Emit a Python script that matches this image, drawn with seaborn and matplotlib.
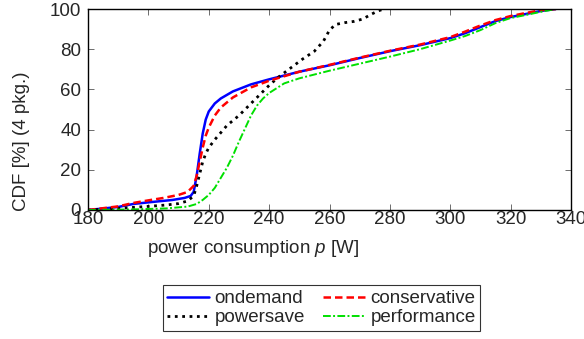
import numpy as np
import pandas as pd
import matplotlib
matplotlib.use('Agg')
import matplotlib.pyplot as plt
import seaborn as sns

# CDF curves (power in W, CDF in %)
ondemand_x = [180, 190, 195, 200, 208, 212, 214, 215, 216, 217, 218, 219, 220, 222, 224, 228, 234, 240,
              250, 260, 270, 280, 290, 300, 305, 310, 315, 320, 325, 330, 335]
ondemand_y = [0, 1.5, 3, 3.8, 5, 6, 7, 9, 17, 28, 38, 45, 49, 53, 55.5, 59, 62.5, 65,
              68.8, 72, 75.6, 79, 82, 85.5, 88, 91, 94, 96, 97.5, 99, 100]

conservative_x = [180, 190, 195, 200, 205, 210, 213, 215, 216, 217, 218, 219, 220, 222, 224, 228, 234, 240,
                  250, 260, 270, 280, 290, 300, 305, 310, 315, 320, 325, 330, 335]
conservative_y = [0, 1.8, 3.5, 4.8, 6, 7.5, 9, 12, 17, 24, 31, 37, 41, 47, 51, 56, 61, 64.3,
                  68.8, 72.2, 75.8, 79.2, 82.3, 86, 88.8, 91.8, 94.5, 96.5, 98, 99.4, 100]

powersave_x = [180, 190, 200, 206, 210, 213, 215, 216, 217, 218, 219, 220, 222, 226, 230, 233, 236, 240,
               243, 247, 251, 255, 258, 260, 262, 265, 268, 271, 274, 276, 278]
powersave_y = [0, 0.8, 1.8, 2.5, 3.2, 4.5, 7, 12, 18, 24, 28, 31, 35, 42, 47, 51.5, 56, 62,
               66, 70.5, 75, 79, 84, 89.5, 92.3, 93.2, 93.8, 95, 97.5, 99, 100]

performance_x = [180, 195, 206, 213, 216, 218, 220, 222, 224, 226, 228, 230, 232, 234, 236, 238, 240,
                 245, 250, 260, 270, 280, 290, 300, 305, 310, 315, 320, 325, 330, 335]
performance_y = [0, 0.3, 0.8, 1.7, 3, 5, 7.5, 11, 16, 21, 27, 34, 40.5, 47, 52, 55.5, 58.2,
                 63, 65.5, 69.3, 72.8, 76.3, 80, 84.3, 86.6, 89.5, 93, 95.5, 97, 98.6, 100]

x_ticks = [180, 200, 220, 240, 260, 280, 300, 320, 340]
y_ticks = [0, 20, 40, 60, 80, 100]

sns.set_style('ticks')
plt.rcParams['font.family'] = ['Liberation Sans', 'DejaVu Sans']
plt.rcParams['mathtext.fontset'] = 'custom'
plt.rcParams['mathtext.it'] = 'Liberation Sans:italic'
plt.rcParams['mathtext.rm'] = 'Liberation Sans'

fs = 13.5
fig = plt.figure(figsize=(5.84, 3.39), dpi=100)
ax = fig.add_axes([88/584, 1 - 210/339, 483/584, 201/339])

series = [
    ('ondemand', ondemand_x, ondemand_y, '#0000ff', '-', 1.8),
    ('powersave', powersave_x, powersave_y, 'black', ':', 2.0),
    ('conservative', conservative_x, conservative_y, '#ff0000', (0, (3, 1.6)), 1.8),
    ('performance', performance_x, performance_y, '#00e000', (0, (4, 1.2, 1, 1.2)), 1.4),
]
for name, xs, ys, col, ls, lw in series:
    sns.lineplot(x=xs, y=ys, ax=ax, color=col, linestyle=ls, linewidth=lw, label=name)

ax.set_xlim(180, 340)
ax.set_ylim(0, 100)
ax.set_xticks(x_ticks)
ax.set_yticks(y_ticks)
ax.tick_params(direction='in', top=True, right=True, labelsize=fs, length=4,
               width=0.6, color='#555555')
ax.tick_params(axis='x', pad=1)
ax.tick_params(axis='y', pad=5)
for s in ax.spines.values():
    s.set_linewidth(1.0)
    s.set_color('black')

ax.set_xlabel('power consumption $p$ [W]', fontsize=fs)
ax.set_ylabel('CDF [%] (4 pkg.)', fontsize=fs)
ax.xaxis.set_label_coords(0.342, -0.14)
ax.yaxis.set_label_coords(-0.12, 0.343)

leg = ax.legend(ncol=2, loc='center', bbox_to_anchor=(321.5/584, 1 - 308/339),
                bbox_transform=fig.transFigure, fontsize=fs, frameon=True, fancybox=False,
                edgecolor='black', handlelength=2.2, columnspacing=1.0, handletextpad=0.3,
                borderpad=0.25, labelspacing=0.1)
leg.get_frame().set_linewidth(0.8)

fig.savefig('out.png', dpi=100)
